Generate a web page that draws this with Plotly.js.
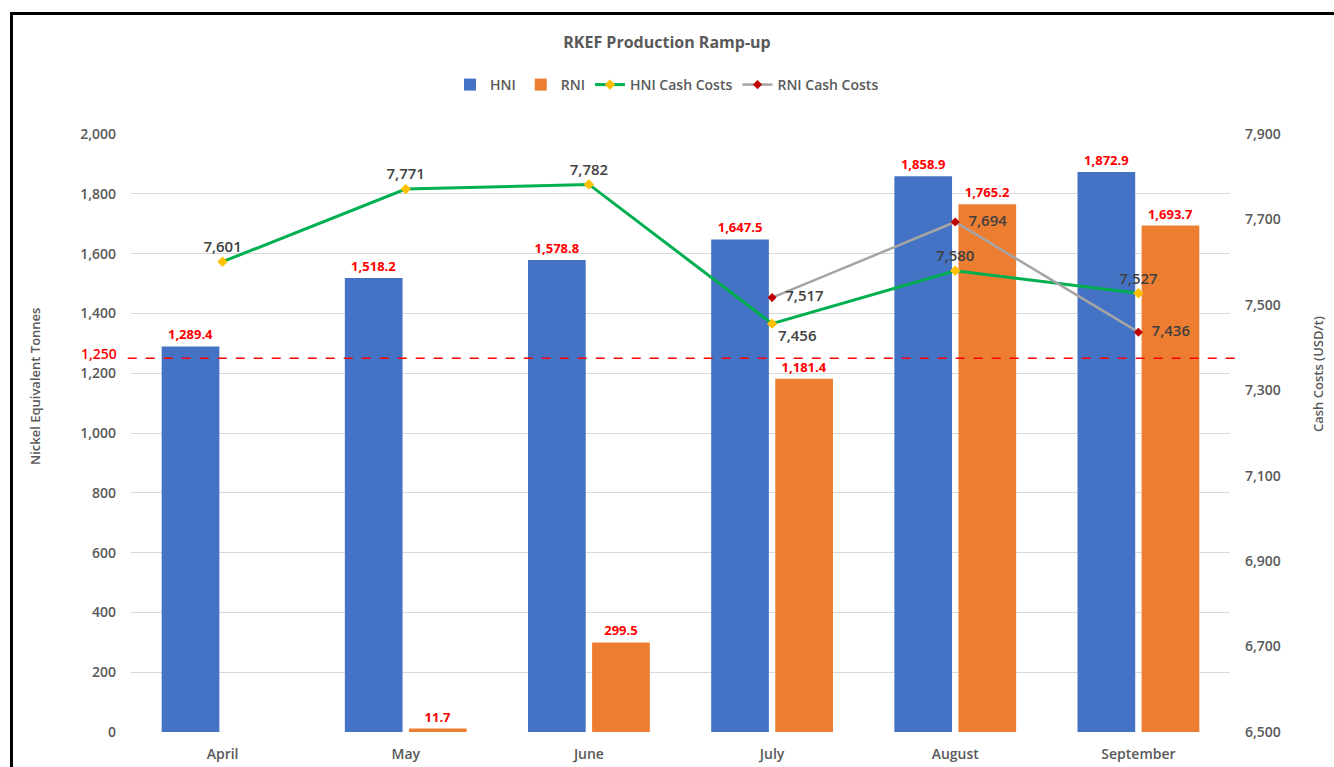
<!DOCTYPE html>
<html>
<head>
<meta charset="utf-8">
<script src="https://cdn.plot.ly/plotly-3.0.1.min.js"></script>
<style>
  html, body { margin:0; padding:0; background:#fff; overflow:hidden; }
  #chart { width:1334px; height:767px; }
  #frame { position:absolute; left:10px; top:12px; width:1400px; height:800px;
           border-left:3px solid #000; border-top:3px solid #000; pointer-events:none; }
</style>
</head>
<body>
<div id="chart"></div>
<div id="frame"></div>
<script>
const months = ["April", "May", "June", "July", "August", "September"];
const hniTonnes = [1289.4, 1518.2, 1578.8, 1647.5, 1858.9, 1872.9];
const rniTonnes = [null, 11.7, 299.5, 1181.4, 1765.2, 1693.7];
const hniCashCosts = [7601, 7771, 7782, 7456, 7580, 7527];
const rniCashCosts = [null, null, null, 7517, 7694, 7436];
const thresholdTonnes = 1250;

const hniCostPos = ["top center", "top center", "top center", "bottom right", "top center", "top center"];
const rniCostPos = ["middle right", "middle right", "middle right", "middle right", "middle right", "middle right"];

const gray = "#595959";
const baseFont = "Open Sans, DejaVu Sans, sans-serif";

const traces = [
  {
    type: "bar", name: "HNI", x: months, y: hniTonnes,
    marker: { color: "#4472C4" },
    texttemplate: "%{y:,.1f}", textposition: "outside", cliponaxis: false,
    textfont: { color: "#FF0000", size: 13, family: baseFont, weight: 700 }
  },
  {
    type: "bar", name: "RNI", x: months, y: rniTonnes,
    marker: { color: "#ED7D31" },
    texttemplate: "%{y:,.1f}", textposition: "outside", cliponaxis: false,
    textfont: { color: "#FF0000", size: 13, family: baseFont, weight: 700 }
  },
  {
    type: "scatter", mode: "lines+markers+text", name: "HNI Cash Costs",
    x: months, y: hniCashCosts, yaxis: "y2",
    line: { color: "#00B050", width: 3 },
    marker: { symbol: "diamond", color: "#FFC000", size: 8 },
    text: hniCashCosts.map(v => v.toLocaleString("en-US")),
    textposition: hniCostPos, cliponaxis: false,
    textfont: { color: "#404040", size: 15, family: baseFont, weight: 600 }
  },
  {
    type: "scatter", mode: "lines+markers+text", name: "RNI Cash Costs",
    x: months, y: rniCashCosts, yaxis: "y2",
    line: { color: "#A5A5A5", width: 2.5 },
    marker: { symbol: "diamond", color: "#C00000", size: 7 },
    text: rniCashCosts.map(v => v == null ? "" : "  " + v.toLocaleString("en-US")),
    textposition: rniCostPos, cliponaxis: false,
    textfont: { color: "#404040", size: 15, family: baseFont, weight: 600 }
  }
];

const layout = {
  width: 1334, height: 767,
  margin: { l: 131, r: 104, t: 134, b: 35 },
  paper_bgcolor: "#fff", plot_bgcolor: "#fff",
  font: { family: baseFont, color: gray, size: 13 },
  title: {
    text: "RKEF Production Ramp-up",
    font: { size: 16, color: gray, family: baseFont, weight: 700 },
    x: 0.5, xanchor: "center", yref: "container", y: 1 - 42/767, yanchor: "middle"
  },
  barmode: "group", bargap: 0.30, bargroupgap: 0.1,
  showlegend: true,
  legend: {
    orientation: "h", x: 0.5, xanchor: "center", xref: "container",
    y: 1 - 85/767, yanchor: "middle", yref: "container",
    font: { size: 14, color: gray, family: baseFont, weight: 600 },
    traceorder: "normal", itemwidth: 30
  },
  xaxis: {
    type: "category", showgrid: false, zeroline: false, showline: false,
    ticks: "", ticklabelstandoff: 12,
    tickfont: { size: 14, color: gray, weight: 600 }
  },
  yaxis: {
    range: [0, 2000], dtick: 200, tick0: 0, tickformat: ",d",
    showgrid: true, gridcolor: "#D9D9D9", gridwidth: 1,
    zeroline: false, showline: false, ticks: "", ticklabelstandoff: 14,
    tickfont: { size: 14, color: gray, weight: 600 }
  },
  yaxis2: {
    overlaying: "y", side: "right", range: [6500, 7900], dtick: 200, tick0: 6500,
    tickformat: ",d", showgrid: false, zeroline: false, showline: false,
    ticks: "", ticklabelstandoff: 14,
    tickfont: { size: 14, color: gray, weight: 600 }
  },
  shapes: [
    {
      type: "line", xref: "paper", yref: "y",
      x0: -0.003, x1: 1.006, y0: thresholdTonnes, y1: thresholdTonnes,
      line: { color: "#FF0000", width: 1.5, dash: "dash" }
    }
  ],
  annotations: [
    {
      text: "1,250", xref: "paper", yref: "y", x: 0, xanchor: "right", xshift: -12,
      y: thresholdTonnes, yanchor: "middle", yshift: 5, showarrow: false,
      font: { color: "#FF0000", size: 14, weight: 600 }
    },
    {
      text: "Nickel Equivalent Tonnes", xref: "paper", yref: "paper",
      x: (35 - 131) / 1099, y: (732 - 387) / 598, textangle: -90,
      xanchor: "center", yanchor: "middle", showarrow: false,
      font: { size: 13, color: gray, weight: 600 }
    },
    {
      text: "Cash Costs (USD/t)", xref: "paper", yref: "paper",
      x: (1318 - 131) / 1099, y: (732 - 374) / 598, textangle: -90,
      xanchor: "center", yanchor: "middle", showarrow: false,
      font: { size: 13, color: gray, weight: 600 }
    }
  ]
};

Plotly.newPlot("chart", traces, layout, { displayModeBar: false, staticPlot: true });
</script>
</body>
</html>
